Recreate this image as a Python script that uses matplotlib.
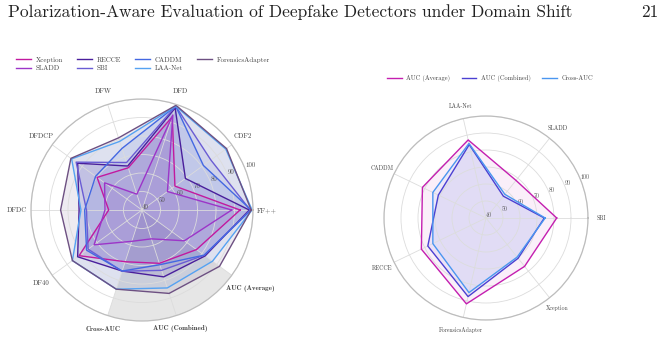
import numpy as np
import matplotlib
matplotlib.use("Agg")
import matplotlib.pyplot as plt

plt.rcParams["font.family"] = ["cmr10", "DejaVu Serif"]
plt.rcParams["axes.formatter.use_mathtext"] = True

HEADER = "Polarization-Aware Evaluation of Deepfake Detectors under Domain Shift"
PAGE = "21"

# Left radar: AUC of each detector per test set + summary metrics
left_axes = ["FF++", "CDF2", "DFD", "DFW", "DFDCP", "DFDC", "DF40",
             "Cross-AUC", "AUC (Combined)", "AUC (Average)"]
summary_axes = ["Cross-AUC", "AUC (Combined)", "AUC (Average)"]

detectors = ["Xception", "SLADD", "RECCE", "SBI", "CADDM", "LAA-Net", "ForensicsAdapter"]
xception = [93.0, 62.0, 93.0, 64.0, 70.0, 58.0, 82.0, 69.4, 70.3, 76.4]
sladd = [88.5, 57.0, 94.0, 49.0, 65.0, 60.0, 72.0, 57.8, 56.4, 68.3]
recce = [98.0, 69.0, 98.0, 65.0, 83.0, 74.0, 83.0, 74.7, 78.0, 82.2]
sbi = [98.5, 86.0, 99.0, 67.0, 84.0, 70.0, 76.0, 74.8, 74.3, 81.6]
caddm = [99.0, 81.0, 99.0, 75.0, 71.0, 71.0, 77.0, 74.7, 71.1, 81.5]
laa_net = [99.5, 96.0, 99.0, 79.0, 87.0, 73.0, 86.5, 85.0, 84.3, 87.1]
forensics_adapter = [99.0, 96.5, 99.5, 81.0, 87.5, 84.0, 86.5, 85.0, 87.4, 91.8]

# Right radar: summary metrics per detector
right_axes = ["SBI", "SLADD", "LAA-Net", "CADDM", "RECCE", "ForensicsAdapter", "Xception"]
metrics = ["AUC (Average)", "AUC (Combined)", "Cross-AUC"]
auc_average = [81.6, 68.3, 87.1, 81.5, 82.2, 91.8, 76.4]
auc_combined = [74.3, 56.4, 84.3, 71.1, 78.0, 87.4, 70.3]
cross_auc = [74.8, 57.8, 85.0, 74.7, 74.7, 85.0, 69.4]

r_ticks = [40, 50, 60, 70, 80, 90, 100]

left_colors = ["#c2199f", "#9c35c8", "#4a1f9c", "#6a5cd4", "#4468e2", "#55a2f2", "#6d5082"]
right_colors = ["#c41fb0", "#4b40d2", "#4a96f0"]

TEXT = "#444444"
GRID = "#dcdcdc"


def setup_radar(ax, labels, fontsize, bold=(), label_r=107.6, extra_r=None):
    n = len(labels)
    theta = np.arange(n) * 2 * np.pi / n
    ax.set_ylim(r_ticks[0], r_ticks[-1])
    ax.set_yticks(r_ticks)
    ax.set_yticklabels([str(t) for t in r_ticks], fontsize=fontsize, color="#555555")
    ax.set_rlabel_position(22)
    ax.set_xticks(theta)
    ax.set_xticklabels([])
    ax.tick_params(axis="both", length=0, pad=0)
    ax.xaxis.grid(color=GRID, lw=0.6)
    ax.yaxis.grid(color=GRID, lw=0.6)
    ax.spines["polar"].set_color("#bdbdbd")
    ax.spines["polar"].set_linewidth(0.9)
    extra_r = extra_r or {}
    for t, lab in zip(theta, labels):
        fam = "cmb10" if lab in bold else "cmr10"
        ax.text(t, extra_r.get(lab, label_r), lab, ha="center", va="center",
                fontsize=fontsize, color=TEXT, family=fam)
    return theta


def draw_series(ax, theta, vals, color, name, alpha):
    t = np.append(theta, theta[0])
    v = np.append(vals, vals[0])
    ax.fill(t, v, color=color, alpha=alpha, lw=0)
    ax.plot(t, v, color=color, lw=1.0, label=name)


fig = plt.figure(figsize=(6.72, 3.47), dpi=100)
fig.text(0.012, 0.952, HEADER, fontsize=12.5, color="#222222")
fig.text(0.954, 0.952, PAGE, fontsize=12.5, color="#222222")

# ---- left radar ----
axl = fig.add_axes([0.0461, 0.0749, 0.3304, 0.6398], projection="polar")
theta_l = setup_radar(axl, left_axes, 5.0, bold=summary_axes,
                      extra_r={"AUC (Average)": 112.5})
i0 = left_axes.index(summary_axes[0])
i1 = left_axes.index(summary_axes[-1])
axl.bar((theta_l[i0] + theta_l[i1]) / 2, r_ticks[-1] - r_ticks[0],
        width=theta_l[i1] - theta_l[i0], bottom=r_ticks[0],
        color="#e6e6e6", lw=0, zorder=0)
left_series = [xception, sladd, recce, sbi, caddm, laa_net, forensics_adapter]
for vals, c, name in zip(left_series, left_colors, detectors):
    draw_series(axl, theta_l, vals, c, name, 0.11)
axl.legend(loc="upper left", bbox_to_anchor=(0.02, 0.845),
           bbox_transform=fig.transFigure, ncol=4, frameon=False,
           fontsize=5.0, handlelength=2.15, handletextpad=0.7,
           columnspacing=2.0, labelspacing=0.4, borderaxespad=0,
           labelcolor=TEXT)

# ---- right radar ----
axr = fig.add_axes([0.5714, 0.0778, 0.3036, 0.5879], projection="polar")
theta_r = setup_radar(axr, right_axes, 4.2)
for vals, c, name in zip([auc_average, auc_combined, cross_auc], right_colors, metrics):
    draw_series(axr, theta_r, vals, c, name, 0.07)
axr.legend(loc="upper left", bbox_to_anchor=(0.572, 0.79),
           bbox_transform=fig.transFigure, ncol=3, frameon=False,
           fontsize=4.6, handlelength=2.3, handletextpad=0.7,
           columnspacing=1.8, borderaxespad=0, labelcolor=TEXT)

fig.savefig("out.png", dpi=100, facecolor="white")
